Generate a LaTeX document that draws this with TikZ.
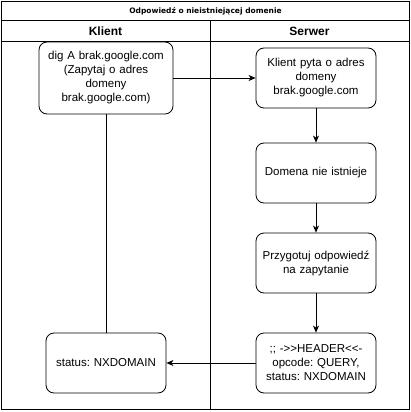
\documentclass[tikz,border=0pt]{standalone}
\usepackage{fontspec}
\setmainfont{Liberation Sans}[Ligatures=TeXOff]
\newfontfamily\tytulfont{DejaVu Sans}
\usetikzlibrary{arrows.meta,positioning}
\frenchspacing
\tikzset{
  krok/.style={draw,rounded corners=8pt,minimum width=120pt,minimum height=60pt,
    text width=116pt,align=center,inner sep=1pt,font=\fontsize{11.5}{14}\selectfont},
  strzalka/.style={-{Stealth[length=7pt,width=6pt,inset=2pt]}}
}
\begin{document}
\begin{tikzpicture}[x=1pt,y=-1pt,line width=0.8pt]
  \useasboundingbox (0,0) rectangle (411,412);
  % pool frame and lanes
  \draw (1,1) rectangle (409,409);
  \draw (1,20.5) -- (409,20.5);
  \draw (1,41) -- (409,41);
  \draw (210,20.5) -- (210,409);
  \node[font=\tytulfont\bfseries\fontsize{7.5}{9}\selectfont] (tytul) at (205.5,11) {Odpowiedź o nieistniejącej domenie};
  \node[font=\bfseries\fontsize{12}{14}\selectfont] (klient) at (105.5,31) {Klient};
  \node[font=\bfseries\fontsize{12}{14}\selectfont] (serwer) at (309.5,31) {Serwer};
  % client lane
  \node[krok,minimum width=134pt,minimum height=72pt,text width=130pt] (zapytanie) at (106,78) {dig A brak.google.com\\(Zapytaj o adres\\domeny\\brak.google.com)};
  \node[krok] (wynik) at (106,363) {status: NXDOMAIN};
  % server lane
  \node[krok] (pyta) at (316,78) {Klient pyta o adres\\domeny\\brak.google.com};
  \node[krok] (brak) at (316,173) {Domena nie istnieje};
  \node[krok] (przygotuj) at (316,263) {Przygotuj odpowiedź\\na zapytanie};
  \node[krok] (naglowek) at (316,363) {;; ->>HEADER<<-\\opcode: QUERY,\\status: NXDOMAIN};
  % connectors
  \draw (zapytanie) -- (wynik);
  \draw[strzalka] (zapytanie) -- (pyta);
  \draw[strzalka] (pyta) -- (brak);
  \draw[strzalka] (brak) -- (przygotuj);
  \draw[strzalka] (przygotuj) -- (naglowek);
  \draw[strzalka] (naglowek) -- (wynik);
\end{tikzpicture}
\end{document}
